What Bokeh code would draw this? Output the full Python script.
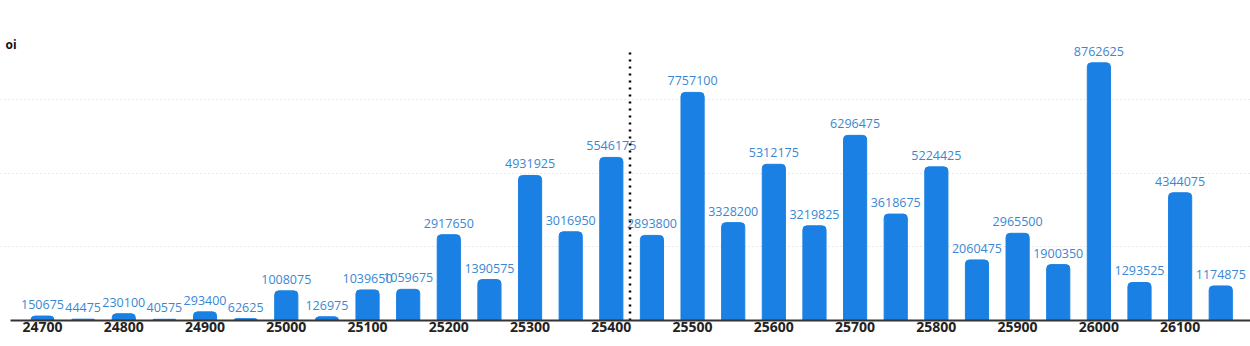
from bokeh.plotting import figure
from bokeh.models import Range1d, FixedTicker, ColumnDataSource, Label
from bokeh.core.properties import value
from bokeh.embed import file_html
from bokeh.resources import INLINE

strikes = [24700, 24750, 24800, 24850, 24900, 24950, 25000, 25050, 25100, 25150,
           25200, 25250, 25300, 25350, 25400, 25450, 25500, 25550, 25600, 25650,
           25700, 25750, 25800, 25850, 25900, 25950, 26000, 26050, 26100, 26150]
oi = [150675, 44475, 230100, 40575, 293400, 62625, 1008075, 126975, 1039650, 1059675,
      2917650, 1390575, 4931925, 3016950, 5546175, 2893800, 7757100, 3328200, 5312175, 3219825,
      6296475, 3618675, 5224425, 2060475, 2965500, 1900350, 8762625, 1293525, 4344075, 1174875]
tick_values = [24700, 24800, 24900, 25000, 25100, 25200, 25300, 25400, 25500, 25600,
               25700, 25800, 25900, 26000, 26100]
grid_values = [2500000, 5000000, 7500000]
spot = 25423
spot_line_top = 9250000
x_start, x_end = 24648.3, 26186.6
axis_start = 24660.6

src = ColumnDataSource(dict(x=strikes, top=oi, label=[str(v) for v in oi]))

p = figure(width=1250, height=346, output_backend="svg", toolbar_location=None,
           x_range=Range1d(x_start, x_end), y_range=Range1d(0, 9862000),
           y_axis_location=None, min_border_left=0, min_border_right=0,
           min_border_top=30, min_border_bottom=26)
p.outline_line_color = None
p.background_fill_color = "white"
p.border_fill_color = "white"

p.vbar(x="x", top="top", width=28.5, source=src, color="#1a80e3",
       border_radius=(4, 4, 0, 0))
p.text(x="x", y="top", text="label", source=src, y_offset=-7,
       text_align="center", text_baseline="bottom", text_color="#3987d3",
       text_font=value("Open Sans"), text_font_size="12.5px")

p.xgrid.visible = False
p.ygrid.ticker = FixedTicker(ticks=grid_values)
p.ygrid.grid_line_color = "#d2d2d2"
p.ygrid.grid_line_dash = "1 3"
p.ygrid.grid_line_width = 1

ax = p.xaxis[0]
ax.ticker = FixedTicker(ticks=tick_values)
ax.bounds = (axis_start, x_end)
ax.axis_line_color = "#333333"
ax.axis_line_width = 2
ax.major_tick_line_color = None
ax.minor_tick_line_color = None
ax.major_tick_out = 0
ax.major_tick_in = 0
ax.major_label_text_font = "Open Sans"
ax.major_label_text_font_style = "bold"
ax.major_label_text_font_size = "14px"
ax.major_label_text_color = "#222222"
ax.major_label_standoff = 1

p.segment(x0=[spot], y0=[0], x1=[spot], y1=[spot_line_top], line_color="black",
          line_width=2.5, line_dash="2 5")

p.add_layout(Label(x=x_start, y=9386000, x_offset=5, text="oi",
                   text_font="Open Sans", text_font_style="bold", text_font_size="12px",
                   text_color="#111111", text_baseline="middle", text_align="left"))

open("out.html", "w").write(file_html(p, INLINE))
